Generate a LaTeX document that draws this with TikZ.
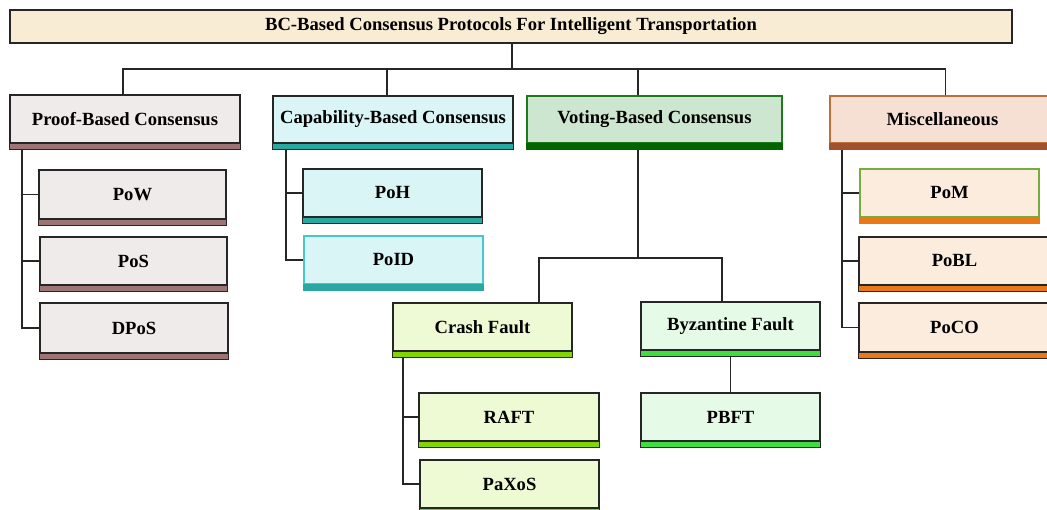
\documentclass[tikz,border=0pt]{standalone}
\usepackage{fontspec}
\setmainfont{Liberation Serif}
\usetikzlibrary{backgrounds}

% palette
\definecolor{titlefill}{RGB}{248,236,212}
\definecolor{prooffill}{RGB}{239,235,234}
\definecolor{proofbar}{RGB}{156,116,116}
\definecolor{capfill}{RGB}{218,245,245}
\definecolor{capbar}{RGB}{40,168,160}
\definecolor{capline}{RGB}{70,200,200}
\definecolor{votefill}{RGB}{205,230,207}
\definecolor{voteline}{RGB}{30,120,30}
\definecolor{votebar}{RGB}{0,100,0}
\definecolor{miscfill}{RGB}{246,224,212}
\definecolor{miscline}{RGB}{190,110,60}
\definecolor{miscbar}{RGB}{160,82,45}
\definecolor{subfill}{RGB}{252,236,222}
\definecolor{subbar}{RGB}{235,120,20}
\definecolor{pomline}{RGB}{120,170,60}
\definecolor{crashfill}{RGB}{238,250,212}
\definecolor{crashbar}{RGB}{132,212,0}
\definecolor{byzfill}{RGB}{230,250,232}
\definecolor{byzbar}{RGB}{64,220,64}

\tikzset{
  cbox/.style={draw=black!85, line width=1.2pt, inner sep=0pt,
    font=\fontsize{18.6}{20}\selectfont\bfseries},
  link/.style={draw=black!85, line width=1.4pt},
}

% coloured strip beneath a box: name, fill, outline
\newcommand\stripunder[3]{%
  \draw[line width=1.2pt, draw=#3, fill=#2]
    (#1.south west) rectangle ([yshift=-6pt]#1.south east);}

\begin{document}
\begin{tikzpicture}[x=1pt, y=-1pt]
\useasboundingbox (0,0) rectangle (1047,510);

% ---- boxes ----
\node[cbox, fill=titlefill, minimum width=1002pt, minimum height=33pt] (title) at (511,26.5)
  {BC-Based Consensus Protocols For Intelligent Transportation};

\node[cbox, fill=prooffill, minimum width=230pt, minimum height=48pt] (proof) at (125,119) {Proof-Based Consensus};
\node[cbox, fill=capfill, minimum width=240pt, minimum height=47pt] (cap) at (393,119.5) {Capability-Based Consensus};
\node[cbox, fill=votefill, draw=voteline, minimum width=255pt, minimum height=47pt] (vote) at (654.5,119.5) {Voting-Based Consensus};
\node[cbox, fill=miscfill, draw=miscline, minimum width=225pt, minimum height=47pt] (misc) at (942.5,119.5) {Miscellaneous};

\node[cbox, fill=prooffill, minimum width=187pt, minimum height=49pt] (pow) at (132.5,194.5) {PoW};
\node[cbox, fill=prooffill, minimum width=187pt, minimum height=48pt] (pos) at (133.5,261) {PoS};
\node[cbox, fill=prooffill, minimum width=188pt, minimum height=50pt] (dpos) at (134,328) {DPoS};

\node[cbox, fill=capfill, minimum width=179pt, minimum height=48pt] (poh) at (392.5,193) {PoH};
\node[cbox, fill=capfill, draw=capline, minimum width=179pt, minimum height=48pt] (poid) at (393.5,260) {PoID};

\node[cbox, fill=crashfill, minimum width=179pt, minimum height=48pt] (crash) at (482.5,327) {Crash Fault};
\node[cbox, fill=byzfill, minimum width=179pt, minimum height=48pt] (byz) at (730.5,326) {Byzantine Fault};
\node[cbox, fill=crashfill, minimum width=180pt, minimum height=48pt] (raft) at (509,417) {RAFT};
\node[cbox, fill=crashfill, minimum width=179pt, minimum height=48pt] (paxos) at (509.5,484) {PaXoS};
\node[cbox, fill=byzfill, minimum width=179pt, minimum height=48pt] (pbft) at (730.5,417) {PBFT};

\node[cbox, fill=subfill, draw=pomline, minimum width=179pt, minimum height=48pt] (pom) at (949.5,193) {PoM};
\node[cbox, fill=subfill, minimum width=191pt, minimum height=48pt] (pobl) at (954.5,261) {PoBL};
\node[cbox, fill=subfill, minimum width=191pt, minimum height=49pt] (poco) at (954.5,327.5) {PoCO};

% ---- strips ----
\stripunder{proof}{proofbar}{black!85}
\stripunder{cap}{capbar}{black!85}
\stripunder{vote}{votebar}{votebar}
\stripunder{misc}{miscbar}{miscbar}
\stripunder{pow}{proofbar}{black!85}
\stripunder{pos}{proofbar}{black!85}
\stripunder{dpos}{proofbar}{black!85}
\stripunder{poh}{capbar}{black!85}
\stripunder{poid}{capbar}{capbar}
\stripunder{crash}{crashbar}{black!85}
\stripunder{byz}{byzbar}{black!85}
\stripunder{raft}{crashbar}{black!85}
\stripunder{paxos}{crashbar}{black!85}
\stripunder{pbft}{byzbar}{black!85}
\stripunder{pom}{subbar}{pomline}
\stripunder{pobl}{subbar}{black!85}
\stripunder{poco}{subbar}{black!85}

% ---- connectors ----
\begin{pgfonlayer}{background}
  \coordinate (hub) at (512,69);
  \draw[link] (title.south -| hub) -- (hub);
  \draw[link] ([xshift=-2pt]proof.north) |- (hub) -| ([xshift=3pt]misc.north);
  \draw[link] ([xshift=-6pt]cap.north) -- ([xshift=-6pt]cap.north |- hub);
  \draw[link] ([xshift=-16.5pt]vote.north) -- ([xshift=-16.5pt]vote.north |- hub);

  % proof-based family
  \coordinate (pspine) at (22,150);
  \draw[link] (pspine) |- (dpos.west);
  \draw[link] (pspine |- pow.west) -- (pow.west);
  \draw[link] (pspine |- pos.west) -- (pos.west);

  % capability-based family
  \coordinate (cspine) at (286,150);
  \draw[link] (cspine) |- (poid.west);
  \draw[link] (cspine |- poh.west) -- (poh.west);

  % voting-based family
  \coordinate (vsplit) at (638,258);
  \coordinate (cdrop) at (539,258);
  \coordinate (bdrop) at (722,258);
  \draw[link] (vsplit |- vote.south) -- (vsplit);
  \draw[link] (cdrop |- crash.north) -- (cdrop) -- (bdrop) -- (bdrop |- byz.north);
  \coordinate (fspine) at (403,357);
  \draw[link] (fspine) |- (paxos.west);
  \draw[link] (fspine |- raft.west) -- (raft.west);
  \draw[link] (byz.south) -- (pbft.north);

  % miscellaneous family
  \coordinate (mspine) at (842,150);
  \draw[link] (mspine) |- (poco.west);
  \draw[link] (mspine |- pom.west) -- (pom.west);
  \draw[link] (mspine |- pobl.west) -- (pobl.west);
\end{pgfonlayer}
\end{tikzpicture}
\end{document}
